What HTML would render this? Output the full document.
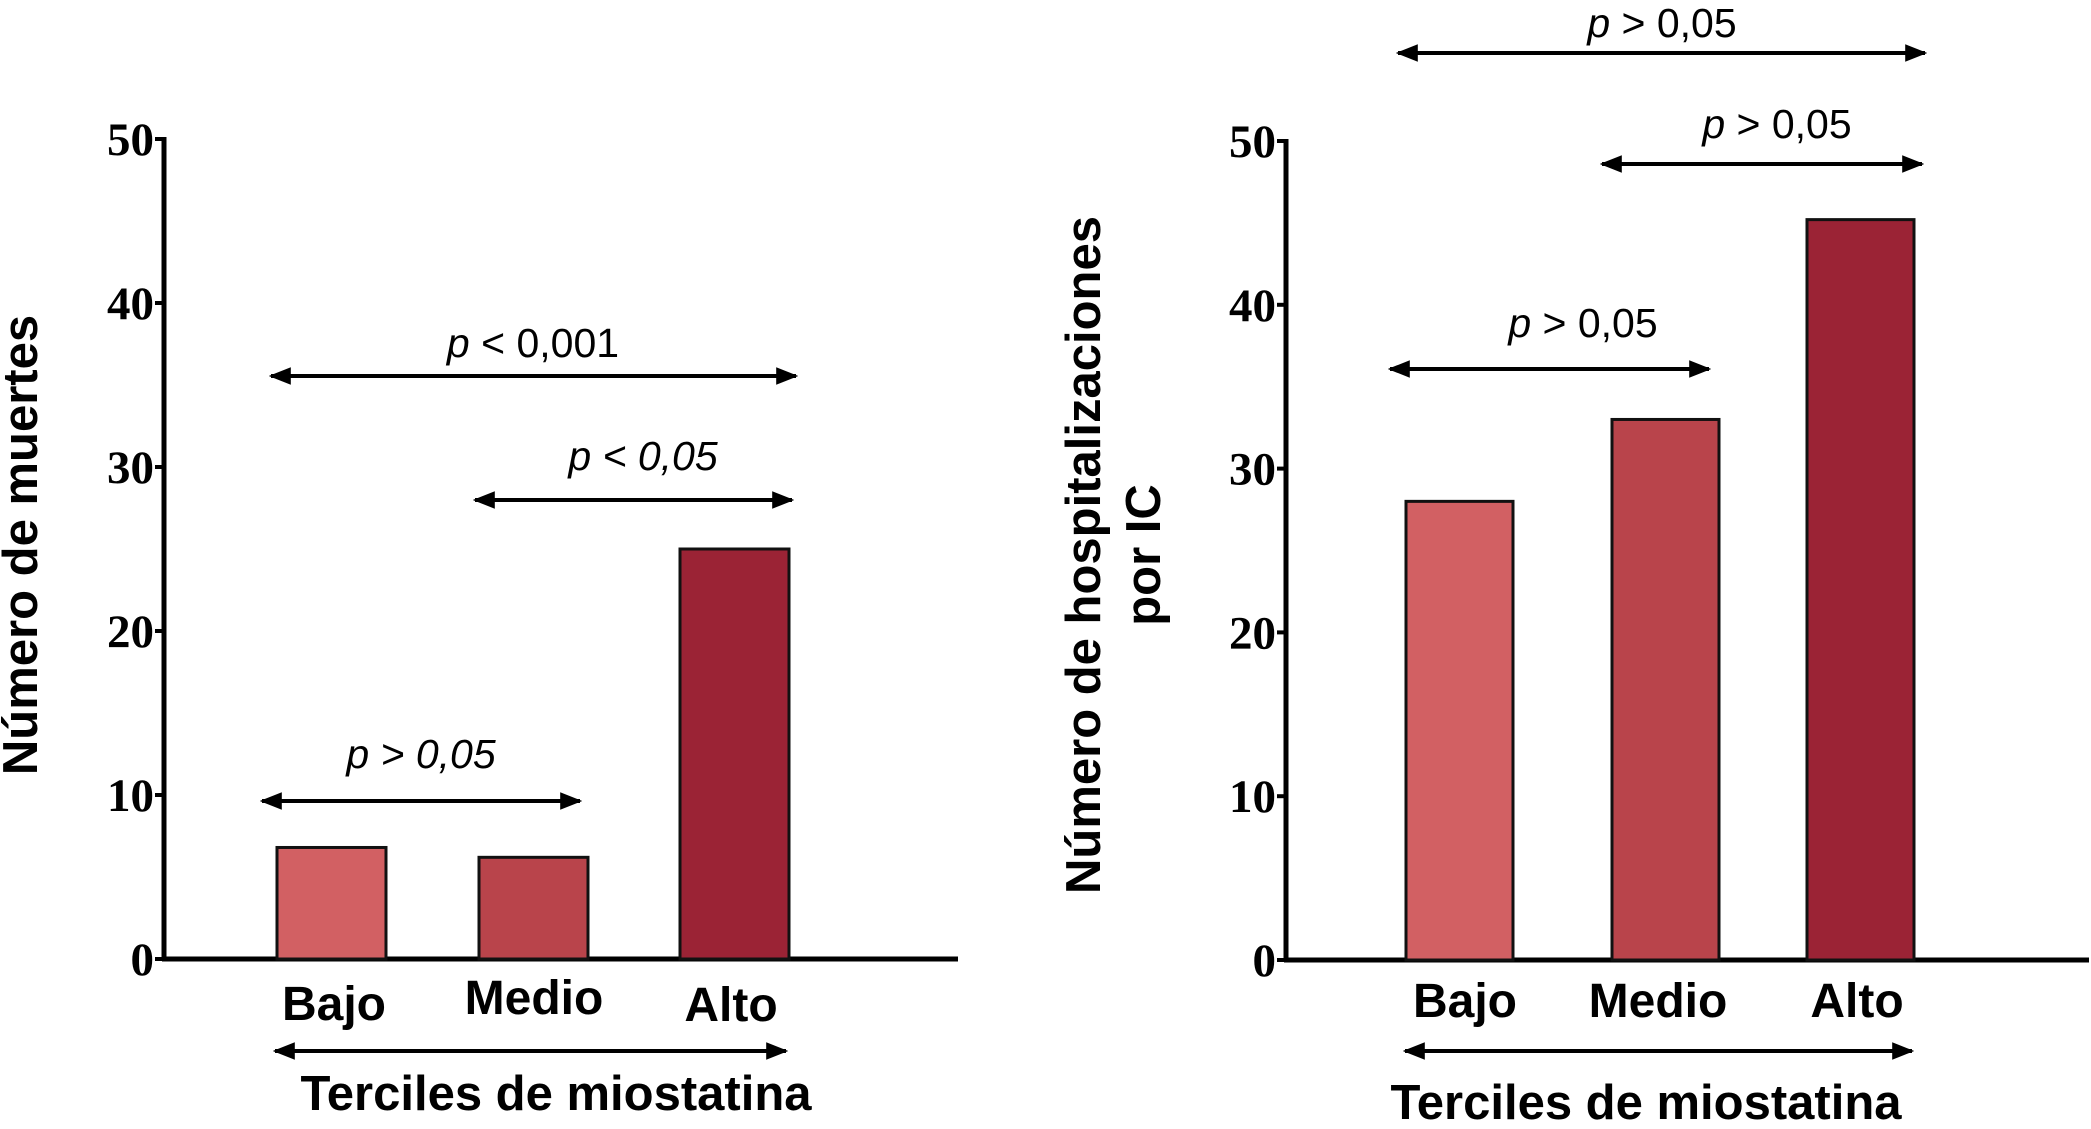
<!DOCTYPE html>
<html><head><meta charset="utf-8"><style>
html,body{margin:0;padding:0;background:#fff;}
svg{display:block;}
.tick{font-family:"Liberation Serif",serif;font-weight:bold;font-size:47px;}
.cat{font-family:"Liberation Sans",sans-serif;font-weight:bold;font-size:48px;}
.ttl{font-family:"Liberation Sans",sans-serif;font-weight:bold;font-size:49px;}
.pv{font-family:"Liberation Sans",sans-serif;font-size:41px;}
</style></head><body>
<svg id="chart" width="2091" height="1129" xmlns="http://www.w3.org/2000/svg">
<defs><marker id="ah" viewBox="0 0 10 10" refX="9" refY="5" markerWidth="5.5" markerHeight="5.5" orient="auto-start-reverse"><path d="M0,1 L10,5 L0,9 z" fill="#000"/></marker></defs>
</svg>
<script>
const categories=["Bajo","Medio","Alto"];
const deaths=[6.8,6.2,25.0];
const hosp=[28.0,33.0,45.2];
const tickVals=[0,10,20,30,40,50];
const colors=["#d26063","#b9444b","#9b2335"];
const svg=document.getElementById('chart');
const NS="http://www.w3.org/2000/svg";
function mk(tag,attrs,parent){const e=document.createElementNS(NS,tag);for(const k in attrs)e.setAttribute(k,attrs[k]);(parent||svg).appendChild(e);return e;}
function txt(s,attrs,cls,parent){const e=mk('text',attrs,parent);e.setAttribute('class',cls);e.textContent=s;return e;}
function arrow(x1,x2,y,name){const l=mk('line',{x1:x1,x2:x2,y1:y,y2:y,stroke:'#000','stroke-width':4,'marker-start':'url(#ah)','marker-end':'url(#ah)'});

}
function pText(x,y,op,val,name,ital){const t=mk('text',{x:x,y:y,'text-anchor':'middle',class:'pv'});


if(ital)t.setAttribute('font-style','italic');
const a=mk('tspan',{'font-style':'italic'},t);a.textContent='p';const b=mk('tspan',{},t);b.textContent=' '+op+' '+val;}
function panel(cfg){
  const g=mk('g',{});
  
  
  const y=v=>cfg.y0-(v/50)*(cfg.y0-cfg.y50);
  mk('line',{x1:cfg.ax,x2:cfg.ax,y1:cfg.y50-2,y2:cfg.y0,stroke:'#000','stroke-width':5},g);
  mk('line',{x1:cfg.ax-2,x2:cfg.xend,y1:cfg.y0,y2:cfg.y0,stroke:'#000','stroke-width':5},g);
  tickVals.forEach(v=>{
    mk('line',{x1:cfg.ax-9,x2:cfg.ax,y1:y(v),y2:y(v),stroke:'#000','stroke-width':4},g);
    const t=txt(String(v),{x:cfg.ax-10,y:y(v)+16,'text-anchor':'end'},'tick',g);
    
    
  });
  cfg.values.forEach((v,i)=>{
    const r=mk('rect',{x:cfg.barX[i],y:y(v),width:cfg.bw,height:cfg.y0-y(v),fill:colors[i],stroke:'#111','stroke-width':3},g);
    
    
    const t=txt(categories[i],{x:cfg.catX[i],y:cfg.catY[i],'text-anchor':'middle'},'cat',g);
    
    
  });
}
panel({name:'deaths-panel',ax:164,y0:959,y50:139,xend:958,values:deaths,barX:[277,479,680],bw:109,
  catX:[334,534,731],catY:[1020,1014,1021]});
panel({name:'hospitalizations-panel',ax:1286,y0:960,y50:141,xend:2089,values:hosp,barX:[1406,1612,1807],bw:107,
  catX:[1465,1658,1857],catY:[1017,1017,1017]});
arrow(271,796,376,'comparison-arrow-bajo-alto');pText(533,357,'<','0,001','p-value-bajo-alto',false);
arrow(475,792,500,'comparison-arrow-medio-alto');pText(643,470,'<','0,05','p-value-medio-alto',true);
arrow(262,580,801,'comparison-arrow-bajo-medio');pText(421,768,'>','0,05','p-value-bajo-medio',true);
arrow(275,786,1051,'tercile-arrow');
let t=txt('Terciles de miostatina',{x:556,y:1110,'text-anchor':'middle'},'ttl');


t=txt('Número de muertes',{x:0,y:0,'text-anchor':'middle',transform:'translate(37,545) rotate(-90)'},'ttl');


arrow(1398,1925,53,'comparison-arrow-bajo-alto-2');pText(1662,37,'>','0,05','p-value-bajo-alto-2',false);
arrow(1602,1922,164,'comparison-arrow-medio-alto-2');pText(1777,138,'>','0,05','p-value-medio-alto-2',false);
arrow(1390,1709,369,'comparison-arrow-bajo-medio-2');pText(1583,337,'>','0,05','p-value-bajo-medio-2',false);
arrow(1405,1912,1051,'tercile-arrow-2');
t=txt('Terciles de miostatina',{x:1646,y:1119,'text-anchor':'middle'},'ttl');


t=txt('Número de hospitalizaciones',{x:0,y:0,'text-anchor':'middle',transform:'translate(1100,555) rotate(-90)'},'ttl');


t=txt('por IC',{x:0,y:0,'text-anchor':'middle',transform:'translate(1160,555) rotate(-90)'},'ttl');


</script>
</body></html>
